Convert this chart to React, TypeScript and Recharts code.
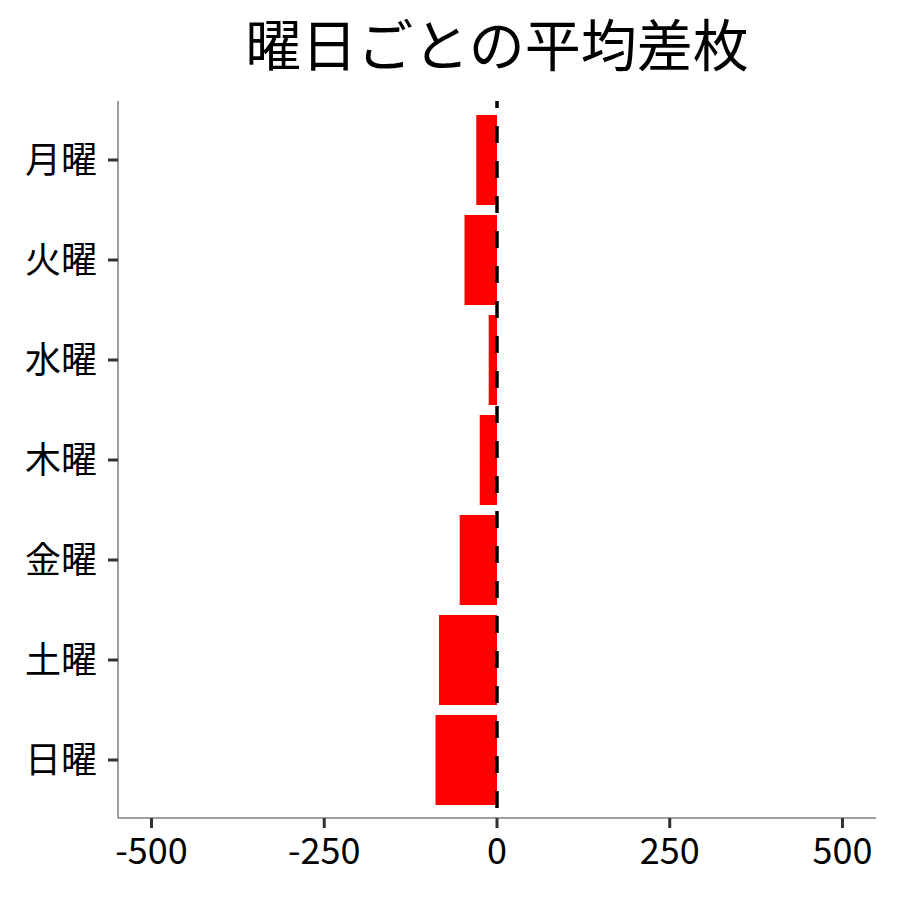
import React from "react";
import {
  BarChart,
  Bar,
  XAxis,
  YAxis,
  ReferenceLine,
} from "recharts";

// --- Data ---
const days = ["月曜", "火曜", "水曜", "木曜", "金曜", "土曜", "日曜"];
const avgDiff = [-30, -47, -12, -25, -54, -84, -89];
const xTicks = [-500, -250, 0, 250, 500];

const chartData = days.map((day, i) => ({ day, diff: avgDiff[i] }));

const FONT = "'Noto Sans CJK JP', 'Noto Sans', sans-serif";

// dashed zero line drawn as a plain svg line so the dash pattern is under control
const ZeroLine = (props: any) => {
  const { x1, y1, x2, y2 } = props;
  const top = Math.min(y1, y2);
  const bottom = Math.max(y1, y2);
  return (
    <line
      x1={x1}
      x2={x2}
      y1={top}
      y2={bottom}
      stroke="#000"
      strokeWidth={3.5}
      strokeDasharray="17 18"
      strokeDashoffset={10}
    />
  );
};

export default function App() {
  return (
    <div style={{ position: "relative", width: 900, height: 900, margin: -8, fontFamily: FONT }}>
      {/* title */}
      <div
        style={{
          position: "absolute",
          left: 118,
          width: 758,
          top: 2,
          textAlign: "center",
          fontSize: 56,
          lineHeight: "80px",
          color: "#000",
        }}
      >
        曜日ごとの平均差枚
      </div>

      <BarChart
        width={900}
        height={900}
        data={chartData}
        layout="vertical"
        margin={{ top: 101, right: 24, bottom: 52, left: 0 }}
        barCategoryGap="5%"
      >
        <XAxis
          type="number"
          domain={[-548.5, 548.5]}
          ticks={xTicks}
          allowDataOverflow
          height={30}
          axisLine={{ stroke: "#7f7f7f", strokeWidth: 1.5 }}
          tickLine={{ stroke: "#333333", strokeWidth: 3 }}
          tickSize={10}
          tickMargin={10}
          tick={{ fill: "#000", fontSize: 36, fontFamily: FONT }}
        />

        <YAxis
          type="category"
          dataKey="day"
          width={118}
          padding={{ top: 9, bottom: 8 }}
          axisLine={{ stroke: "#7f7f7f", strokeWidth: 1.5 }}
          tickLine={{ stroke: "#333333", strokeWidth: 3 }}
          tickSize={10}
          tickMargin={11}
          tick={{ fill: "#000", fontSize: 36, fontFamily: FONT }}
        />

        <Bar dataKey="diff" fill="#ff0000" isAnimationActive={false} />

        {/* dashed zero line on top of the bars */}
        <ReferenceLine x={0} shape={ZeroLine} />
      </BarChart>
    </div>
  );
}
